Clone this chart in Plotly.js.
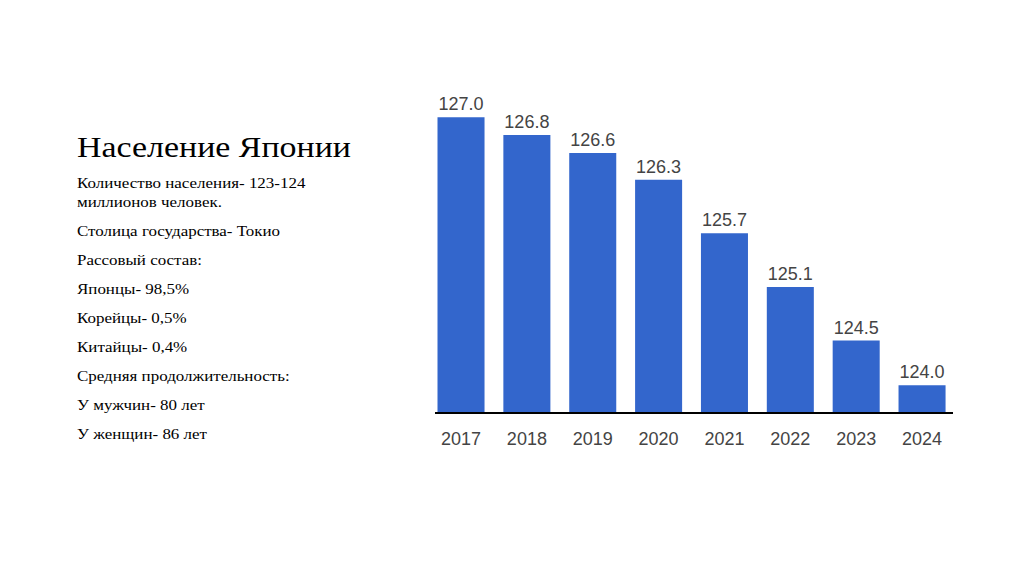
<!DOCTYPE html>
<html>
<head>
<meta charset="utf-8">
<script src="https://cdn.plot.ly/plotly-3.0.1.min.js"></script>
<style>
  body { margin: 0; background: #fff; }
  #wrap { position: relative; width: 1024px; height: 574px; overflow: hidden; }
  #japan-population { position: absolute; left: 0; top: 0; width: 1024px; height: 574px; }
  #info { position: absolute; left: 77px; top: 132px; font-family: "Liberation Serif", "Times New Roman", serif; color: #000;
          transform: scale(1.13, 1); transform-origin: left top; white-space: nowrap; }
  #info h1 { font-size: 30px; line-height: 30px; font-weight: normal; margin: 0 0 12px 0; }
  #info p { font-size: 15px; line-height: 19px; margin: 0 0 10px 0; }
</style>
</head>
<body>
<div id="wrap">
  <div id="japan-population"></div>
  <div id="info">
    <h1>Население Японии</h1>
    <p>Количество населения- 123-124<br>миллионов человек.</p>
    <p>Столица государства- Токио</p>
    <p>Рассовый состав:</p>
    <p>Японцы- 98,5%</p>
    <p>Корейцы- 0,5%</p>
    <p>Китайцы- 0,4%</p>
    <p>Средняя продолжительность:</p>
    <p>У мужчин- 80 лет</p>
    <p>У женщин- 86 лет</p>
  </div>
</div>
<script>
// population of Japan, millions
const years = ['2017', '2018', '2019', '2020', '2021', '2022', '2023', '2024'];
const population = [127.0, 126.8, 126.6, 126.3, 125.7, 125.1, 124.5, 124.0];

const labelFont = { family: '"Liberation Sans Narrow", "Arial Narrow", "Liberation Sans", Arial, sans-serif', size: 18, color: '#444' };

const trace = {
    x: years,
    y: population,
    type: 'bar',
    marker: { color: '#3366cc' },
    text: population.map(v => v.toFixed(1)),
    textposition: 'outside',
    textfont: labelFont,
    cliponaxis: false,
    hoverinfo: 'none'
};

const layout = {
    width: 1024,
    height: 574,
    margin: { l: 435, r: 71, t: 80, b: 162 },
    paper_bgcolor: 'rgba(0,0,0,0)',
    plot_bgcolor: 'rgba(0,0,0,0)',
    bargap: 0.286,
    showlegend: false,
    xaxis: {
        type: 'category',
        range: [-0.395, 7.47],
        showline: true,
        linecolor: '#000',
        linewidth: 2,
        ticks: '',
        ticklabelstandoff: 9,
        tickfont: labelFont,
        showgrid: false,
        zeroline: false
    },
    yaxis: {
        range: [123.7, 127.417],
        visible: false,
        showgrid: false,
        zeroline: false
    }
};

Plotly.newPlot('japan-population', [trace], layout, { staticPlot: true });
</script>
</body>
</html>
